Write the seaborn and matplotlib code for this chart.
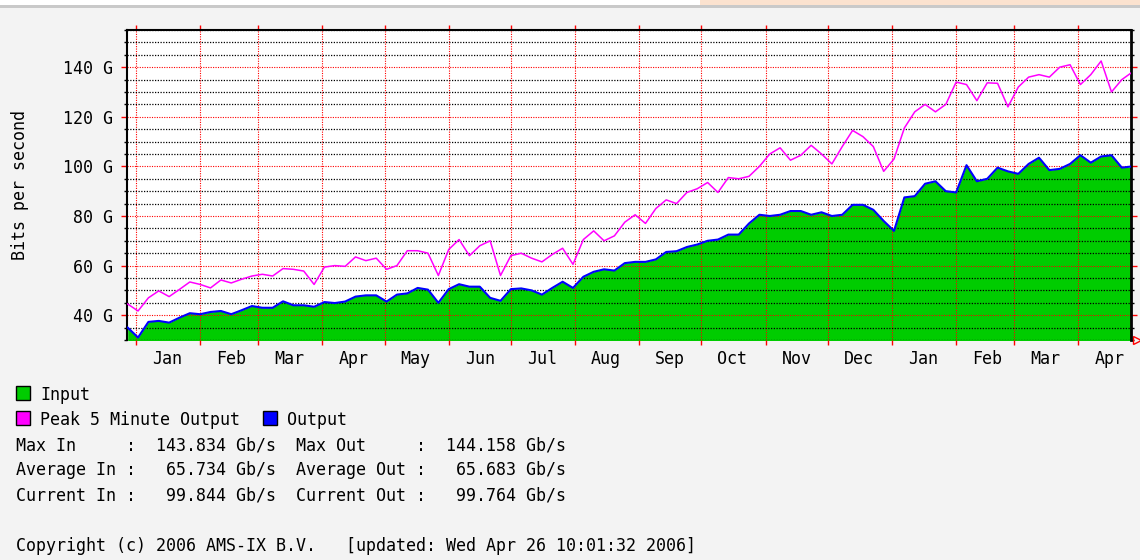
import pandas as pd
import matplotlib
matplotlib.use("Agg")
import matplotlib.pyplot as plt
import matplotlib.dates as mdates
from matplotlib.ticker import MultipleLocator, FuncFormatter, NullFormatter
from matplotlib.patches import Rectangle
import seaborn as sns

# AMS-IX yearly traffic, one reading every 5 days (Gbit/s)
dates = pd.date_range('2004-12-28', periods=98, freq='5D')

peak_out = [44.5, 41.7, 47.0, 49.8, 47.5, 50.4, 53.4, 52.4, 51.0, 54.2,
            53.0, 54.5, 55.8, 56.5, 55.8, 58.8, 58.5, 57.8, 52.4, 59.4,
            60.0, 59.7, 63.5, 62.0, 63.0, 58.5, 60.0, 66.0, 66.0, 65.0,
            56.0, 66.5, 70.5, 64.0, 68.0, 70.0, 56.0, 64.0, 65.0, 63.0,
            61.5, 64.5, 67.0, 60.5, 70.5, 74.0, 70.0, 72.0, 77.5, 80.5,
            77.0, 83.0, 86.5, 85.0, 89.5, 91.0, 93.5, 89.5, 95.5, 95.0,
            96.0, 100.0, 105.0, 107.5, 102.5, 104.5, 108.5, 105.0, 101.0, 108.0,
            114.5, 112.0, 108.0, 98.0, 103.0, 115.5, 122.0, 125.0, 122.0, 125.0,
            134.0, 133.0, 126.5, 133.7, 133.5, 124.0, 132.0, 136.0, 137.0, 136.0,
            140.0, 141.0, 133.0, 137.0, 142.5, 130.0, 135.0, 138.0]

output_gbps = [35.0, 31.0, 37.3, 37.7, 37.0, 39.0, 40.8, 40.4, 41.3, 41.7,
               40.4, 42.0, 43.7, 43.0, 43.0, 45.6, 44.0, 44.0, 43.4, 45.3,
               44.9, 45.5, 47.5, 48.0, 48.0, 45.5, 48.3, 48.8, 51.0, 50.3,
               45.0, 50.5, 52.5, 51.5, 51.5, 47.0, 45.8, 50.5, 50.8, 50.0,
               48.3, 51.0, 53.5, 51.0, 55.5, 57.5, 58.5, 58.0, 61.0, 61.5,
               61.5, 62.5, 65.5, 65.8, 67.5, 68.5, 70.0, 70.5, 72.5, 72.5,
               77.0, 80.5, 80.0, 80.5, 82.0, 82.0, 80.5, 81.5, 80.0, 80.5,
               84.5, 84.5, 82.5, 78.0, 74.0, 87.5, 88.0, 93.0, 94.0, 90.0,
               89.5, 100.5, 94.0, 95.0, 99.5, 98.0, 97.0, 101.0, 103.5, 98.5,
               99.0, 101.0, 104.5, 101.5, 104.0, 104.5, 99.5, 100.0]

input_gbps = [35.2, 31.0, 37.3, 37.9, 37.0, 39.0, 40.9, 40.4, 41.3, 41.7,
              40.4, 42.0, 43.7, 43.0, 43.1, 45.6, 44.0, 44.0, 43.4, 45.3,
              44.9, 45.5, 47.6, 48.0, 48.0, 45.5, 48.3, 48.9, 51.0, 50.3,
              45.0, 50.5, 52.5, 51.5, 51.6, 47.0, 45.8, 50.5, 50.8, 50.0,
              48.3, 51.0, 53.5, 51.0, 55.5, 57.5, 58.6, 58.0, 61.0, 61.5,
              61.5, 62.5, 65.5, 65.8, 67.5, 68.5, 70.0, 70.5, 72.5, 72.5,
              77.0, 80.5, 80.0, 80.5, 82.0, 82.2, 80.5, 81.5, 80.0, 80.5,
              84.5, 84.5, 82.5, 78.0, 74.0, 87.5, 88.0, 93.0, 94.0, 90.0,
              89.5, 100.5, 94.0, 95.0, 99.5, 98.0, 97.0, 101.0, 103.5, 98.5,
              99.0, 101.0, 104.5, 101.5, 104.0, 104.8, 99.5, 99.8]

stats_lines = [
    "Max In     :  143.834 Gb/s  Max Out     :  144.158 Gb/s",
    "Average In :   65.734 Gb/s  Average Out :   65.683 Gb/s",
    "Current In :   99.844 Gb/s  Current Out :   99.764 Gb/s",
]
copyright_text = "Copyright (c) 2006 AMS-IX B.V.   [updated: Wed Apr 26 10:01:32 2006]"

GREEN, BLUE, MAGENTA = '#00cc00', '#0000ff', '#ff00ff'
BG = '#f3f3f3'
W, H = 1140, 560

plt.rcParams['font.family'] = ['DejaVu Sans Mono']
plt.rcParams['font.size'] = 12

df = pd.DataFrame({'date': dates, 'peak': peak_out,
                   'output': output_gbps, 'input': input_gbps})

fig = plt.figure(figsize=(W / 100, H / 100), dpi=100, facecolor=BG)
ax = fig.add_axes([127 / W, 1 - 340 / H, (1131 - 127) / W, 310 / H])
ax.set_facecolor('white')

ax.fill_between(df['date'], df['input'], 0, color=GREEN, lw=0, zorder=1)
sns.lineplot(data=df, x='date', y='output', color=BLUE, lw=1.5, ax=ax, zorder=3)
sns.lineplot(data=df, x='date', y='peak', color=MAGENTA, lw=1.1, ax=ax, zorder=3)

ax.set_xlim(pd.Timestamp('2004-12-27 16:00'), pd.Timestamp('2006-04-26 10:00'))
ax.set_ylim(30, 155)
ax.set_xlabel('')
ax.set_ylabel('')

ax.xaxis.set_major_locator(mdates.MonthLocator())
ax.xaxis.set_major_formatter(NullFormatter())
ax.xaxis.set_minor_locator(mdates.MonthLocator(bymonthday=16))
ax.xaxis.set_minor_formatter(mdates.DateFormatter('%b'))
ax.tick_params(axis='x', which='major', direction='out', length=3.5, width=1,
               color='red', top=True, bottom=True)
ax.tick_params(axis='x', which='minor', length=0, pad=7, labelsize=12)

ax.yaxis.set_major_locator(MultipleLocator(20))
ax.yaxis.set_major_formatter(FuncFormatter(lambda v, p: f'{v:.0f} G'))
ax.yaxis.set_minor_locator(MultipleLocator(5))
ax.tick_params(axis='y', which='major', direction='out', length=4, width=1,
               color='red', left=True, right=True, pad=6, labelsize=12)
ax.tick_params(axis='y', which='minor', direction='out', length=2.5, width=1,
               color='black', left=True, right=True)

ax.grid(which='major', axis='both', color='red', linestyle=(0, (1, 1.2)), linewidth=0.8)
ax.grid(which='minor', axis='y', color='black', linestyle=(0, (1, 1.2)), linewidth=0.9)
ax.set_axisbelow('line')

for side in ['left', 'top']:
    ax.spines[side].set_linewidth(1.5)
ax.spines['right'].set_linewidth(2)
ax.spines['bottom'].set_visible(False)
ax.plot([1.006], [0.0], marker='>', ms=6, mfc='none', mec='red', mew=1,
        transform=ax.transAxes, clip_on=False)

fig.text(20 / W, 1 - 185 / H, 'Bits per second', rotation=90, ha='center', va='center')


def px(x, y):
    return x / W, 1 - y / H


# page header strip of the screenshot
fig.patches.append(Rectangle(px(0, 5), 1, 5 / H, transform=fig.transFigure,
                             facecolor='white', lw=0))
fig.patches.append(Rectangle(px(700, 5), 440 / W, 5 / H, transform=fig.transFigure,
                             facecolor='#fbe2cf', lw=0))
fig.patches.append(Rectangle(px(0, 8), 1, 3 / H, transform=fig.transFigure,
                             facecolor='#c9c9c9', lw=0))

# legend boxes
for (x0, y0, c) in [(16, 400, GREEN), (16, 425, MAGENTA), (263, 425, BLUE)]:
    fig.patches.append(Rectangle(px(x0, y0), 14 / W, 14 / H, transform=fig.transFigure,
                                 facecolor=c, edgecolor='black', lw=1))

fig.text(*px(40, 400), 'Input', va='baseline')
fig.text(*px(40, 425), 'Peak 5 Minute Output', va='baseline')
fig.text(*px(287, 425), 'Output', va='baseline')
for k, line in enumerate(stats_lines):
    fig.text(*px(16, 450 + 25 * k), line, va='baseline')
fig.text(*px(16, 551), copyright_text, va='baseline')

fig.savefig('out.png', dpi=100, facecolor=BG)
